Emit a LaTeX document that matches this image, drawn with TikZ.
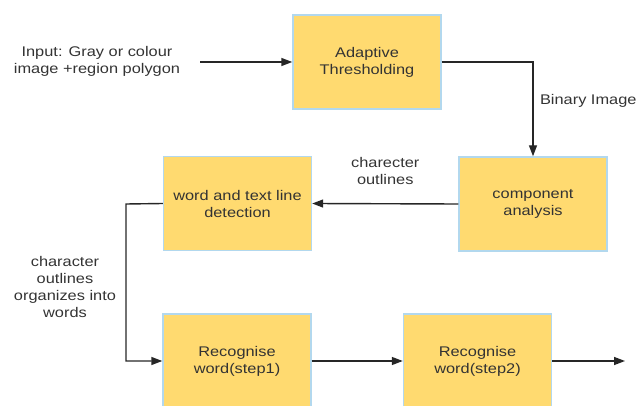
\documentclass[tikz,border=0pt]{standalone}
\usepackage{fontspec}
\setmainfont{Liberation Sans}[FakeStretch=1.17]
\usetikzlibrary{arrows.meta}
\definecolor{boxfill}{RGB}{255,218,112}
\definecolor{boxline}{RGB}{178,216,238}
\definecolor{textgray}{RGB}{51,51,51}
\tikzset{>={Triangle[length=11pt,width=8pt]}}
\tikzset{
  procbox/.style={draw=boxline, line width=1.4pt, fill=boxfill,
    minimum width=148pt, minimum height=94pt, align=center, inner sep=0pt},
  flow/.style={->, line width=1.4pt, draw=black!85}
}

\begin{document}
\begin{tikzpicture}[x=1pt, y=-1pt,
    every node/.style={font=\fontsize{14}{17}\selectfont, text=textgray}]
      \useasboundingbox (0, 0) rectangle (638, 406);
      \clip (0, 0) rectangle (638, 406);
      % boxes
      \node[procbox] (adapt) at (367, 62) {Adaptive\\Thresholding};
      \node[procbox] (comp) at (533, 204) {component\\analysis};
      \node[procbox] (detect) at (237.5, 203.5) {word and text line\\detection};
      \node[procbox] (rec1) at (237, 361) {Recognise\\word(step1)};
      \node[procbox] (rec2) at (477.5, 361) {Recognise\\word(step2)};
      % texts
      \node[align=center] (input) at (97, 61) {Input: Gray or colour\\image +region polygon};
      \coordinate (inend) at (200, 62);
      \coordinate (outend) at (625, 361);
      \coordinate (bend) at (533, 62);
      \coordinate (lbend) at (126, 204);
      % arrows
      \draw[flow] (inend) -- (adapt.west);
      \draw[flow] (adapt.east) -- (bend) -- (comp.north)
        node[pos=0.41, right=3pt] {Binary Image};
      \draw[flow] (comp.west) -- (detect.east)
        node[midway, above=15pt, align=center] {charecter\\outlines};
      \draw[flow] (detect.west) -- (lbend) |- (rec1.west)
        node[pos=0.264, left=6pt, align=center] {character\\outlines\\organizes into\\words};
      \draw[flow] (rec1.east) -- (rec2.west);
      \draw[flow] (rec2.east) -- (outend);
    \end{tikzpicture}
\end{document}
